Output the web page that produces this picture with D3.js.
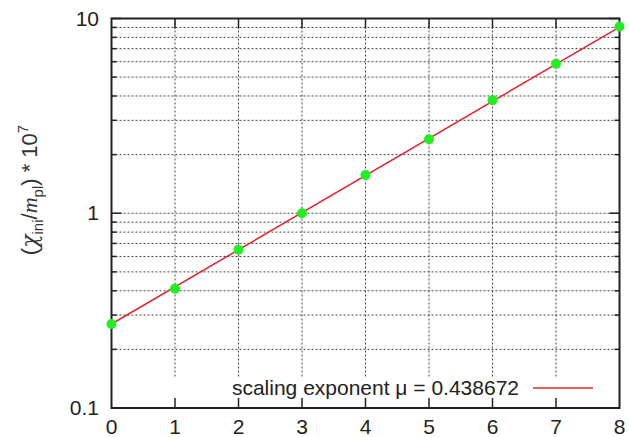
<!DOCTYPE html>
<html>
<head>
  <meta charset="utf-8">
  <title>Scaling exponent</title>
  <style>
    body { margin: 0; background: white; }
    svg { display: block; font-family: "Liberation Sans", Arial, sans-serif; }
    .grid line { stroke: #444; stroke-width: 1; stroke-dasharray: 2,2; }
    .tick-label { font-size: 21px; fill: #222; }
  </style>
  <script src="https://d3js.org/d3.v7.min.js"></script>
</head>
<body>
  <div id="chart"></div>
  <script>
    const xValues = [0, 1, 2, 3, 4, 5, 6, 7, 8];
    const yValues = [0.27, 0.41, 0.65, 1.0, 1.57, 2.4, 3.8, 5.85, 9.1];

    // fit line endpoints, scaling exponent mu = 0.438672
    const fitX = [0, 8];
    const fitY = [0.27, 9.04];
    const legendLabel = "scaling exponent \u03bc = 0.438672";

    const xTicks = [0, 1, 2, 3, 4, 5, 6, 7, 8];
    const yMajorTicks = [0.1, 1, 10];
    const yMinorTicks = [0.2, 0.3, 0.4, 0.5, 0.6, 0.7, 0.8, 0.9, 2, 3, 4, 5, 6, 7, 8, 9];

    const W = 629, H = 437;
    const pLeft = 111.5, pRight = 619.5, pTop = 18.5, pBottom = 408;

    const svg = d3.select("#chart").append("svg")
      .attr("width", W)
      .attr("height", H);

    const x = d3.scaleLinear().domain([0, 8]).range([pLeft, pRight]);
    const y = d3.scaleLog().domain([0.1, 10]).range([pBottom, pTop]);

    // grid
    const grid = svg.append("g").attr("class", "grid");
    grid.selectAll(".hg")
      .data(yMinorTicks.concat([1]))
      .enter().append("line")
        .attr("x1", pLeft).attr("x2", pRight)
        .attr("y1", d => y(d)).attr("y2", d => y(d));
    grid.selectAll(".vg")
      .data(xTicks.slice(1, -1))
      .enter().append("line")
        .attr("x1", d => x(d)).attr("x2", d => x(d))
        .attr("y1", pTop).attr("y2", pBottom);

    // key area hides the grid at the bottom
    svg.append("rect")
      .attr("x", pLeft + 1).attr("y", 378)
      .attr("width", pRight - pLeft - 2).attr("height", pBottom - 378 - 1)
      .attr("fill", "white");

    // ticks on all four sides
    const ticks = svg.append("g").attr("stroke", "#222").attr("stroke-width", 1.5);
    xTicks.slice(1, -1).forEach(v => {
      ticks.append("line").attr("x1", x(v)).attr("x2", x(v)).attr("y1", pBottom).attr("y2", pBottom - 10);
      ticks.append("line").attr("x1", x(v)).attr("x2", x(v)).attr("y1", pTop).attr("y2", pTop + 10);
    });
    yMajorTicks.concat(yMinorTicks).forEach(v => {
      const len = yMajorTicks.includes(v) ? 10 : 5;
      ticks.append("line").attr("x1", pLeft).attr("x2", pLeft + len).attr("y1", y(v)).attr("y2", y(v));
      ticks.append("line").attr("x1", pRight).attr("x2", pRight - len).attr("y1", y(v)).attr("y2", y(v));
    });

    // frame
    svg.append("rect")
      .attr("x", pLeft).attr("y", pTop)
      .attr("width", pRight - pLeft).attr("height", pBottom - pTop)
      .attr("fill", "none")
      .attr("stroke", "#222")
      .attr("stroke-width", 2);

    // tick labels
    svg.selectAll(".xl")
      .data(xTicks)
      .enter().append("text")
        .attr("class", "tick-label")
        .attr("x", d => x(d))
        .attr("y", 434)
        .attr("text-anchor", "middle")
        .text(d => d);
    svg.selectAll(".yl")
      .data(yMajorTicks)
      .enter().append("text")
        .attr("class", "tick-label")
        .attr("x", 99)
        .attr("y", d => y(d) + 7)
        .attr("text-anchor", "end")
        .text(d => d);

    // y axis title
    const yt = svg.append("text")
      .attr("transform", "translate(37,190) rotate(-90)")
      .attr("text-anchor", "middle")
      .style("font-size", "22px")
      .attr("fill", "#333");
    yt.append("tspan").text("(");
    yt.append("tspan").style("font-family", "'DejaVu Serif', serif").style("font-style", "italic").text("\u03c7");
    yt.append("tspan").attr("dy", 6).style("font-size", "15px").text("ini");
    yt.append("tspan").attr("dy", -6).text("/");
    yt.append("tspan").style("font-family", "'Liberation Serif', serif").style("font-style", "italic").text("m");
    yt.append("tspan").attr("dy", 6).style("font-size", "15px").text("pl");
    yt.append("tspan").attr("dy", -6).text(") * 10");
    yt.append("tspan").attr("dy", -9).style("font-size", "15px").text("7");

    // fit line
    const fit = fitX.map((v, i) => ({ x: v, y: fitY[i] }));
    svg.append("path")
      .datum(fit)
      .attr("fill", "none")
      .attr("stroke", "#e8202a")
      .attr("stroke-width", 1.5)
      .attr("d", d3.line().x(d => x(d.x)).y(d => y(d.y)));

    // points
    svg.selectAll(".pt")
      .data(xValues.map((v, i) => ({ x: v, y: yValues[i] })))
      .enter().append("circle")
        .attr("cx", d => x(d.x))
        .attr("cy", d => y(d.y))
        .attr("r", 5)
        .attr("fill", "#22ee22");

    // legend
    svg.append("text")
      .attr("x", 519)
      .attr("y", 395)
      .attr("text-anchor", "end")
      .style("font-size", "21px")
      .attr("fill", "#222")
      .text(legendLabel);
    svg.append("line")
      .attr("x1", 533).attr("x2", 593)
      .attr("y1", 388).attr("y2", 388)
      .attr("stroke", "#e8202a")
      .attr("stroke-width", 1.5);
  </script>
</body>
</html>
